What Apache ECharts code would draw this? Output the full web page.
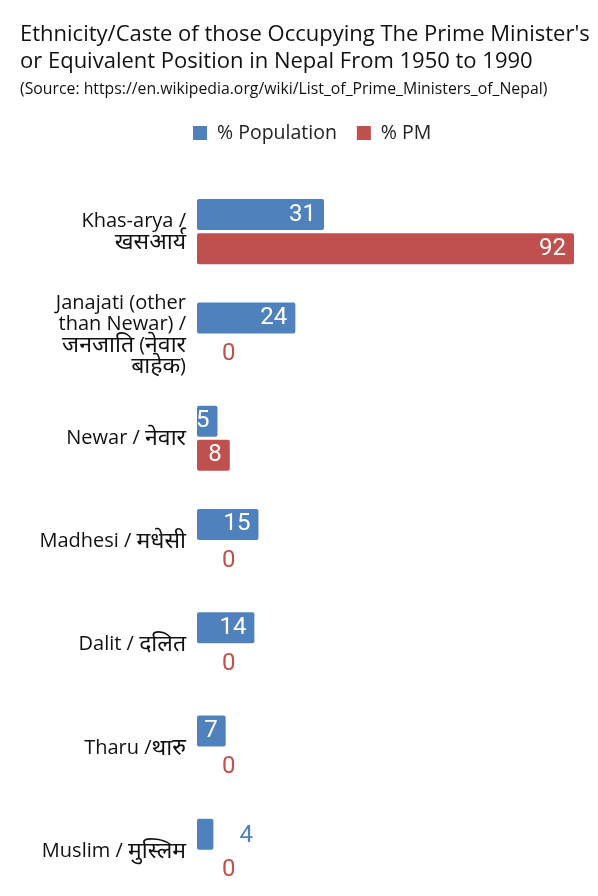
<!DOCTYPE html>
<html>
<head>
<meta charset="utf-8">
<script src="https://cdn.jsdelivr.net/npm/echarts@6/dist/echarts.min.js"></script>
<style>
  html, body { margin: 0; padding: 0; background: #fff; overflow: hidden; }
  #main { width: 598px; height: 903px; }
</style>
</head>
<body>
<div id="main"></div>
<script>
// 数据
const categories = [
  'Khas-arya /\nखसआर्य',
  'Janajati (other\nthan Newar) /\nजनजाति (नेवार\nबाहेक)',
  'Newar / नेवार',
  'Madhesi / मधेसी',
  'Dalit / दलित',
  'Tharu /थारु',
  'Muslim / मुस्लिम'
]
const population = [31, 24, 5, 15, 14, 7, 4]
const pm = [92, 0, 8, 0, 0, 0, 0]

const blue = '#4f81bd'
const red = '#c0504d'

// 小数值的标签放到柱子外面
const makeData = (arr, color) => arr.map(v => {
  if (v < 5) {
    return {
      value: v,
      label: { position: 'right', distance: v === 0 ? 25 : 26, color: color, offset: [0, 2] }
    }
  }
  return v
})

// 天城文部分字号大一点
const wrapLabel = (text) => text.split('\n').map(line =>
  line.split(/([\u0900-\u097F]+)/)
    .filter(s => s.length)
    .map(s => /[\u0900-\u097F]/.test(s) ? `{d|${s}}` : `{l|${s}}`)
    .join('')
).join('\n')

const myChart = echarts.init(document.querySelector('#main'))

const option = {
  animation: false,
  title: [
    {
      text: "Ethnicity/Caste of those Occupying The Prime Minister's\nor Equivalent Position in Nepal From 1950 to 1990",
      left: 15,
      top: 16,
      textStyle: {
        fontFamily: 'Open Sans',
        fontWeight: 'normal',
        fontSize: 22,
        lineHeight: 27,
        color: '#111'
      }
    },
    {
      text: '(Source: https://en.wikipedia.org/wiki/List_of_Prime_Ministers_of_Nepal)',
      left: 15,
      top: 76,
      textStyle: {
        fontFamily: 'Open Sans',
        fontWeight: 'normal',
        fontSize: 15.8,
        color: '#111'
      }
    }
  ],
  legend: {
    top: 118,
    left: 188,
    itemWidth: 14,
    itemHeight: 14,
    itemGap: 20,
    icon: 'rect',
    textStyle: {
      fontFamily: 'Open Sans',
      fontSize: 19.5,
      color: '#222',
      padding: [0, 0, 0, 5]
    },
    data: ['% Population', '% PM']
  },
  grid: {
    left: 197,
    right: 24,
    top: 180,
    bottom: 0
  },
  xAxis: {
    type: 'value',
    min: 0,
    max: 92,
    show: false
  },
  yAxis: {
    type: 'category',
    inverse: true,
    data: categories,
    axisLine: { show: false },
    axisTick: { show: false },
    axisLabel: {
      margin: 11,
      color: '#111',
      align: 'right',
      formatter: wrapLabel,
      rich: {
        l: {
          fontFamily: 'Open Sans',
          fontSize: 20,
          lineHeight: 21,
          color: '#111'
        },
        d: {
          fontFamily: 'Noto Sans',
          fontSize: 23,
          lineHeight: 21,
          color: '#111'
        }
      }
    }
  },
  series: [
    {
      name: '% Population',
      type: 'bar',
      data: makeData(population, blue),
      barWidth: 31,
      barGap: '10%',
      itemStyle: { color: blue, borderRadius: 2 },
      label: {
        show: true,
        position: 'insideRight',
        distance: 8,
        fontFamily: 'Roboto',
        fontSize: 24,
        color: '#fff'
      }
    },
    {
      name: '% PM',
      type: 'bar',
      data: makeData(pm, red),
      barWidth: 31,
      barGap: '10%',
      itemStyle: { color: red, borderRadius: 2 },
      label: {
        show: true,
        position: 'insideRight',
        distance: 8,
        fontFamily: 'Roboto',
        fontSize: 24,
        color: '#fff'
      }
    }
  ]
}

myChart.setOption(option)
</script>
</body>
</html>
